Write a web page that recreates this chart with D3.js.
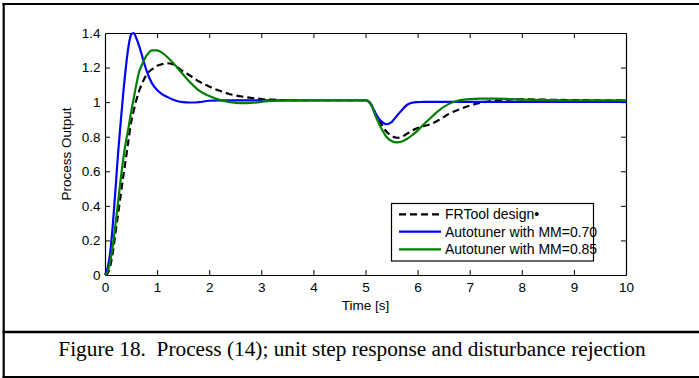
<!DOCTYPE html>
<html>
<head>
<meta charset="utf-8">
<script src="https://cdn.jsdelivr.net/npm/d3@7"></script>
<style>
  html, body { margin: 0; padding: 0; background: #fff; }
  svg { display: block; }
</style>
</head>
<body>
<svg id="chart" width="699" height="378"></svg>
<script>
// ---- Data ----
const timeS = [0,0.05,0.1,0.15,0.2,0.25,0.3,0.35,0.4,0.45,0.5,0.55,0.6,0.65,0.7,0.8,0.9,1.0,1.1,1.2,1.3,1.4,1.5,1.6,1.7,1.8,2.0,2.2,2.4,2.6,2.8,3.0,3.2,3.5,4.0,4.5,5.0,5.1,5.2,5.3,5.4,5.5,5.6,5.7,5.8,5.9,6.0,6.1,6.2,6.4,6.6,6.8,7.0,7.2,7.5,8.0,8.5,9.0,10];
const frtoolDesign = [0,0.01,0.05,0.13,0.24,0.35,0.46,0.57,0.67,0.78,0.88,0.95,1.01,1.06,1.10,1.16,1.19,1.21,1.22,1.225,1.22,1.20,1.178,1.16,1.14,1.12,1.09,1.066,1.046,1.034,1.025,1.018,1.014,1.012,1.012,1.012,1.012,0.99,0.93,0.875,0.83,0.805,0.794,0.80,0.818,0.836,0.85,0.86,0.868,0.895,0.932,0.958,0.98,0.995,1.01,1.016,1.014,1.012,1.01];
const autotuner070 = [0,0.04,0.13,0.29,0.49,0.70,0.88,1.05,1.20,1.32,1.39,1.40,1.37,1.33,1.28,1.18,1.11,1.07,1.045,1.03,1.015,1.005,1.0,0.998,0.998,1.0,1.008,1.01,1.01,1.01,1.01,1.01,1.01,1.01,1.01,1.01,1.01,0.99,0.93,0.89,0.872,0.885,0.92,0.955,0.985,0.997,1.0,1.001,1.002,1.002,1.002,1.002,1.002,1.002,1.002,1.002,1.002,1.002,1.002];
const autotuner085 = [0,0.02,0.08,0.17,0.29,0.42,0.55,0.67,0.77,0.85,0.94,1.02,1.10,1.17,1.21,1.27,1.30,1.30,1.285,1.26,1.23,1.195,1.16,1.125,1.095,1.068,1.035,1.013,1.0,0.994,0.995,1.002,1.007,1.01,1.012,1.012,1.012,0.99,0.915,0.85,0.80,0.775,0.767,0.772,0.788,0.81,0.835,0.866,0.895,0.95,0.99,1.01,1.018,1.02,1.02,1.015,1.012,1.01,1.01];

const seriesNames = ["FRTool design\u2022", "Autotuner with MM=0.70", "Autotuner with MM=0.85"];
const seriesColors = ["#000000", "#0000ff", "#008000"];
const seriesDash = ["7,4", null, null];
const seriesValues = [frtoolDesign, autotuner070, autotuner085];

const xTicks = [0,1,2,3,4,5,6,7,8,9,10];
const yTicks = [0,0.2,0.4,0.6,0.8,1,1.2,1.4];
const xLabel = "Time [s]";
const yLabel = "Process Output";
const caption = "Figure 18.  Process (14); unit step response and disturbance rejection";

// ---- Layout ----
const svg = d3.select("#chart");
const plot = { left: 105, right: 626, top: 33, bottom: 275 };

const x = d3.scaleLinear().domain([0, 10]).range([plot.left, plot.right]);
const y = d3.scaleLinear().domain([0, 1.4]).range([plot.bottom, plot.top]);

// Outer frame
const frame = svg.append("g").attr("stroke", "#000").attr("stroke-width", 2.2).attr("fill", "none");
frame.append("line").attr("x1", 2.6).attr("x2", 700).attr("y1", 4).attr("y2", 4);
frame.append("line").attr("x1", 3.7).attr("x2", 3.7).attr("y1", 3).attr("y2", 378);
frame.append("line").attr("x1", 2.6).attr("x2", 700).attr("y1", 332).attr("y2", 332).attr("stroke-width", 2.6);
frame.append("line").attr("x1", 2.6).attr("x2", 700).attr("y1", 377).attr("y2", 377);

// Axes
const tickFont = "Liberation Sans, Arial, Helvetica, sans-serif";
const fmt = d => d3.format("")(d);

const gx = svg.append("g").attr("transform", `translate(0,${plot.bottom})`)
  .call(d3.axisBottom(x).tickValues(xTicks).tickFormat(fmt).tickSizeInner(-5).tickSizeOuter(0).tickPadding(7));
const gy = svg.append("g").attr("transform", `translate(${plot.left},0)`)
  .call(d3.axisLeft(y).tickValues(yTicks).tickFormat(fmt).tickSizeInner(-5).tickSizeOuter(0).tickPadding(4.5));
const gxt = svg.append("g").attr("transform", `translate(0,${plot.top})`)
  .call(d3.axisTop(x).tickValues(xTicks).tickFormat("").tickSizeInner(-5).tickSizeOuter(0));
const gyr = svg.append("g").attr("transform", `translate(${plot.right},0)`)
  .call(d3.axisRight(y).tickValues(yTicks).tickFormat("").tickSizeInner(-5).tickSizeOuter(0));

[gx, gy, gxt, gyr].forEach(g => {
  g.selectAll("path.domain").attr("stroke", "#000").attr("stroke-width", 1.2);
  g.selectAll(".tick line").attr("stroke", "#000").attr("stroke-width", 1);
  g.selectAll("text").attr("font-family", tickFont).attr("font-size", 13.5).attr("fill", "#000");
});
// remove tick marks at the box corners
gx.selectAll(".tick").filter(d => d === 0 || d === 10).select("line").remove();
gxt.selectAll(".tick").filter(d => d === 0 || d === 10).select("line").remove();
gy.selectAll(".tick").filter(d => d === 0 || d === 1.4).select("line").remove();
gyr.selectAll(".tick").filter(d => d === 0 || d === 1.4).select("line").remove();

// Axis labels
svg.append("text").attr("x", (plot.left + plot.right) / 2).attr("y", 310)
  .attr("text-anchor", "middle").attr("font-family", tickFont).attr("font-size", 13.5)
  .text(xLabel);
svg.append("text").attr("transform", `translate(71,${(plot.top + plot.bottom) / 2}) rotate(-90)`)
  .attr("text-anchor", "middle").attr("font-family", tickFont).attr("font-size", 13.5)
  .text(yLabel);

// Lines
const line = d3.line().x((d, i) => x(timeS[i])).y(d => y(d)).curve(d3.curveMonotoneX);
[0, 1, 2].forEach(k => {
  svg.append("path")
    .datum(seriesValues[k])
    .attr("d", line)
    .attr("fill", "none")
    .attr("stroke", seriesColors[k])
    .attr("stroke-width", 2.2)
    .attr("stroke-linejoin", "round")
    .attr("stroke-dasharray", seriesDash[k]);
});

// Legend
const lg = svg.append("g");
lg.append("rect").attr("x", 391.5).attr("y", 203.5).attr("width", 202).attr("height", 57.5)
  .attr("fill", "#fff").attr("stroke", "#000").attr("stroke-width", 1.2);
const rowY = [214.3, 231.7, 249.3];
seriesNames.forEach((name, k) => {
  lg.append("line").attr("x1", 399).attr("x2", 441).attr("y1", rowY[k]).attr("y2", rowY[k])
    .attr("stroke", seriesColors[k]).attr("stroke-width", 2.2).attr("stroke-dasharray", seriesDash[k]);
  lg.append("text").attr("x", 445).attr("y", rowY[k] + 4.8)
    .attr("font-family", tickFont).attr("font-size", 14).text(name);
});

// Caption
svg.append("text").attr("x", 352).attr("y", 356).attr("text-anchor", "middle")
  .attr("font-family", "Liberation Serif, Times New Roman, serif").attr("font-size", 21.3)
  .style("white-space", "pre")
  .text(caption);
</script>
</body>
</html>
